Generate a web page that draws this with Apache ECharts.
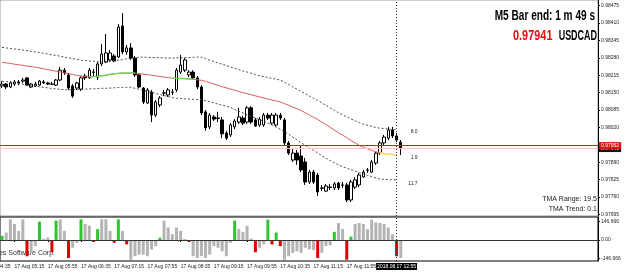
<!DOCTYPE html>
<html>
<head>
<meta charset="utf-8">
<title>USDCAD M5 - TMA bands</title>
<script src="https://cdn.jsdelivr.net/npm/echarts@6/dist/echarts.min.js"></script>
<style>
  html, body { margin: 0; padding: 0; background: #fff; }
  #chart { width: 625px; height: 275px; }
</style>
</head>
<body>
<div id="chart"></div>
<script>
// time axis (5 min bars), right part is the empty chart shift
const axisStart = '05:00';
const axisEnd = '16:55';
const firstBar = '05:00';
const cutLabel = '17 Aug 04:35'; // tick just left of the visible area
const timeTicks = ['05:15', '05:55', '06:35', '07:15', '07:55', '08:35', '09:15', '09:55', '10:35', '11:15', '11:55'];
const cursorTime = '12:55';
const cursorLabel = '2018.08.17 12:55';

// [open, close, low, high]
const candles = [
  [0.98175, 0.98182, 0.98167, 0.98193], [0.98182, 0.98171, 0.98163, 0.98186], [0.98171, 0.98186, 0.98167, 0.98193],
  [0.98182, 0.98190, 0.98175, 0.98197], [0.98190, 0.98186, 0.98178, 0.98197], [0.98193, 0.98197, 0.98186, 0.98205],
  [0.98205, 0.98178, 0.98175, 0.98208], [0.98171, 0.98182, 0.98167, 0.98186], [0.98175, 0.98182, 0.98171, 0.98190],
  [0.98178, 0.98193, 0.98175, 0.98197], [0.98190, 0.98186, 0.98182, 0.98197], [0.98186, 0.98182, 0.98178, 0.98190],
  [0.98182, 0.98181, 0.98178, 0.98190], [0.98178, 0.98197, 0.98175, 0.98201], [0.98197, 0.98234, 0.98193, 0.98246],
  [0.98234, 0.98223, 0.98216, 0.98242], [0.98216, 0.98167, 0.98160, 0.98223], [0.98175, 0.98137, 0.98130, 0.98182],
  [0.98167, 0.98186, 0.98160, 0.98190], [0.98163, 0.98205, 0.98156, 0.98212], [0.98212, 0.98205, 0.98197, 0.98220],
  [0.98205, 0.98234, 0.98201, 0.98242], [0.98227, 0.98226, 0.98212, 0.98238], [0.98208, 0.98257, 0.98197, 0.98264],
  [0.98257, 0.98294, 0.98249, 0.98332], [0.98264, 0.98298, 0.98261, 0.98369], [0.98272, 0.98298, 0.98264, 0.98309],
  [0.98287, 0.98268, 0.98264, 0.98294], [0.98283, 0.98395, 0.98279, 0.98406], [0.98399, 0.98302, 0.98294, 0.98447],
  [0.98302, 0.98317, 0.98291, 0.98328], [0.98317, 0.98279, 0.98272, 0.98335], [0.98279, 0.98216, 0.98208, 0.98287],
  [0.98216, 0.98171, 0.98167, 0.98223], [0.98167, 0.98115, 0.98107, 0.98171], [0.98111, 0.98160, 0.98107, 0.98167],
  [0.98152, 0.98066, 0.98040, 0.98160], [0.98066, 0.98115, 0.98059, 0.98122], [0.98104, 0.98130, 0.98096, 0.98137],
  [0.98149, 0.98148, 0.98137, 0.98160], [0.98141, 0.98160, 0.98134, 0.98167], [0.98152, 0.98151, 0.98141, 0.98163],
  [0.98160, 0.98234, 0.98152, 0.98242], [0.98227, 0.98253, 0.98220, 0.98291], [0.98234, 0.98272, 0.98227, 0.98279],
  [0.98216, 0.98227, 0.98208, 0.98234], [0.98227, 0.98205, 0.98197, 0.98234], [0.98205, 0.98171, 0.98163, 0.98212],
  [0.98171, 0.98074, 0.98066, 0.98178], [0.98078, 0.98018, 0.98007, 0.98085], [0.98022, 0.98066, 0.98014, 0.98074],
  [0.98059, 0.98051, 0.98044, 0.98066], [0.98055, 0.98054, 0.98040, 0.98078], [0.98048, 0.97996, 0.97980, 0.98059],
  [0.97999, 0.97980, 0.97973, 0.98007], [0.97992, 0.98029, 0.97984, 0.98036], [0.98022, 0.98044, 0.98014, 0.98051],
  [0.98040, 0.98059, 0.98033, 0.98093], [0.98055, 0.98036, 0.98029, 0.98063], [0.98040, 0.98093, 0.98033, 0.98100],
  [0.98093, 0.98040, 0.98033, 0.98100], [0.98048, 0.98025, 0.98022, 0.98055], [0.98029, 0.98051, 0.98022, 0.98059],
  [0.98029, 0.98066, 0.98022, 0.98074], [0.98066, 0.98055, 0.98048, 0.98074], [0.98036, 0.98066, 0.98029, 0.98074],
  [0.98029, 0.98066, 0.98022, 0.98074], [0.98066, 0.98055, 0.98048, 0.98074], [0.98048, 0.97962, 0.97954, 0.98055],
  [0.97962, 0.97924, 0.97917, 0.97969], [0.97898, 0.97924, 0.97891, 0.97943], [0.97924, 0.97898, 0.97880, 0.97936],
  [0.97913, 0.97861, 0.97853, 0.97954], [0.97891, 0.97816, 0.97805, 0.97906], [0.97816, 0.97853, 0.97809, 0.97861],
  [0.97853, 0.97816, 0.97809, 0.97861], [0.97842, 0.97779, 0.97764, 0.97850], [0.97794, 0.97793, 0.97782, 0.97805],
  [0.97782, 0.97801, 0.97779, 0.97809], [0.97797, 0.97796, 0.97786, 0.97809], [0.97794, 0.97809, 0.97786, 0.97816],
  [0.97812, 0.97794, 0.97786, 0.97816], [0.97805, 0.97804, 0.97794, 0.97816], [0.97805, 0.97749, 0.97741, 0.97812],
  [0.97749, 0.97816, 0.97741, 0.97824], [0.97797, 0.97824, 0.97790, 0.97835], [0.97805, 0.97842, 0.97797, 0.97850],
  [0.97835, 0.97853, 0.97831, 0.97861], [0.97861, 0.97860, 0.97850, 0.97868], [0.97853, 0.97891, 0.97850, 0.97898],
  [0.97887, 0.97924, 0.97880, 0.97928], [0.97924, 0.97962, 0.97917, 0.97969], [0.97962, 0.97984, 0.97954, 0.97992],
  [0.97980, 0.98010, 0.97973, 0.98022], [0.98010, 0.97988, 0.97980, 0.98022], [0.97988, 0.97973, 0.97965, 0.97999],
  [0.97965, 0.97941, 0.97917, 0.97973]
];

// TMA centre line and bands (one value per closed bar)
const tmaMid = [
  0.98263, 0.98261, 0.98259, 0.98256, 0.98254, 0.98252, 0.98249, 0.98247, 0.98245, 0.98242,
  0.98239, 0.98236, 0.98233, 0.98230, 0.98227, 0.98224, 0.98221, 0.98218, 0.98214, 0.98212,
  0.98210, 0.98209, 0.98210, 0.98211, 0.98213, 0.98215, 0.98218, 0.98220, 0.98222, 0.98223,
  0.98223, 0.98223, 0.98223, 0.98221, 0.98219, 0.98217, 0.98215, 0.98213, 0.98210, 0.98208,
  0.98206, 0.98204, 0.98203, 0.98203, 0.98202, 0.98201, 0.98200, 0.98198, 0.98196, 0.98192,
  0.98187, 0.98182, 0.98177, 0.98172, 0.98168, 0.98163, 0.98159, 0.98154, 0.98150, 0.98146,
  0.98142, 0.98138, 0.98134, 0.98130, 0.98126, 0.98122, 0.98119, 0.98115, 0.98109, 0.98103,
  0.98096, 0.98090, 0.98083, 0.98075, 0.98066, 0.98058, 0.98050, 0.98040, 0.98031, 0.98020,
  0.98010, 0.98000, 0.97991, 0.97982, 0.97971, 0.97962, 0.97953, 0.97946, 0.97940, 0.97934,
  0.97929, 0.97924, 0.97922, 0.97921, 0.97919, 0.97917
];
const tmaUpper = [
  0.98319, 0.98317, 0.98315, 0.98313, 0.98311, 0.98309, 0.98307, 0.98304, 0.98302, 0.98300,
  0.98297, 0.98294, 0.98291, 0.98289, 0.98286, 0.98283, 0.98280, 0.98277, 0.98274, 0.98271,
  0.98270, 0.98268, 0.98267, 0.98265, 0.98265, 0.98267, 0.98268, 0.98270, 0.98271, 0.98273,
  0.98276, 0.98278, 0.98280, 0.98282, 0.98283, 0.98282, 0.98281, 0.98281, 0.98280, 0.98280,
  0.98279, 0.98279, 0.98280, 0.98280, 0.98281, 0.98281, 0.98282, 0.98283, 0.98282, 0.98277,
  0.98271, 0.98266, 0.98261, 0.98256, 0.98251, 0.98246, 0.98241, 0.98236, 0.98231, 0.98227,
  0.98222, 0.98218, 0.98213, 0.98210, 0.98206, 0.98203, 0.98200, 0.98197, 0.98189, 0.98181,
  0.98171, 0.98163, 0.98154, 0.98146, 0.98137, 0.98129, 0.98121, 0.98112, 0.98102, 0.98093,
  0.98084, 0.98075, 0.98067, 0.98060, 0.98052, 0.98045, 0.98038, 0.98032, 0.98028, 0.98024,
  0.98020, 0.98017, 0.98016, 0.98014, 0.98012, 0.98011
];
const tmaLower = [
  0.98193, 0.98191, 0.98189, 0.98186, 0.98184, 0.98181, 0.98178, 0.98176, 0.98174, 0.98172,
  0.98169, 0.98168, 0.98165, 0.98164, 0.98162, 0.98161, 0.98160, 0.98161, 0.98162, 0.98162,
  0.98163, 0.98164, 0.98164, 0.98165, 0.98166, 0.98166, 0.98167, 0.98168, 0.98169, 0.98169,
  0.98170, 0.98170, 0.98166, 0.98163, 0.98159, 0.98155, 0.98151, 0.98147, 0.98143, 0.98139,
  0.98135, 0.98131, 0.98129, 0.98128, 0.98127, 0.98126, 0.98125, 0.98124, 0.98123, 0.98120,
  0.98116, 0.98112, 0.98107, 0.98103, 0.98099, 0.98095, 0.98087, 0.98080, 0.98074, 0.98067,
  0.98061, 0.98055, 0.98049, 0.98043, 0.98037, 0.98029, 0.98021, 0.98013, 0.98005, 0.97995,
  0.97984, 0.97974, 0.97963, 0.97953, 0.97943, 0.97934, 0.97925, 0.97914, 0.97905, 0.97896,
  0.97888, 0.97880, 0.97873, 0.97868, 0.97862, 0.97856, 0.97851, 0.97846, 0.97841, 0.97836,
  0.97831, 0.97827, 0.97826, 0.97825, 0.97824, 0.97824
];
// bar index spans where the centre line is drawn green / yellow
const tmaUpSpans = [[21, 32], [41, 46]];
const tmaFlatSpans = [[91, 95]];
const bandLabels = { upper: '8.0', mid: '1.9', lower: '11.7' };

// lower window histogram, state: 1 = up (green), -1 = down (red), 0 = neutral
const histValues = [
  33, 60, 165, 128, 73, 165, -130, -103, -49, 147,
  10, 19, -98, 155, 165, 73, -144, -62, -22, 165,
  128, 114, -16, 87, 165, 165, 73, -22, 165, 73,
  -35, -158, -130, -117, -117, -130, -76, -49, 19, 155,
  100, 46, 100, 73, 8, -16, -130, -144, -130, -144,
  -117, -49, -62, -90, -130, -22, 155, 87, 65, 114,
  10, -98, -62, -35, 163, -35, 60, -49, -158, -130,
  -103, -90, -103, -62, -75, -80, -144, -103, -49, -43,
  65, 136, 87, -158, 27, 128, 136, 128, 87, 163,
  141, 136, 128, 100, 46, -130, -144
];
const histState = [
  1, 0, 0, 0, 0, 0, -1, 0, 0, 1,
  0, 0, -1, 1, 0, 0, -1, 0, 0, 1,
  0, 0, -1, 1, 0, 0, 0, -1, 1, 0,
  -1, 0, 0, 0, 0, 0, 0, 0, 1, 0,
  0, 0, 0, 0, 0, -1, 0, 0, 0, 0,
  0, 0, 0, 0, 0, 0, 1, 0, 0, 0,
  0, -1, 0, 0, 1, -1, 1, -1, 0, 0,
  0, 0, 0, 0, 0, 0, -1, 0, 0, 0,
  1, 0, 0, -1, 1, 0, 0, 0, 0, 0,
  0, 0, 0, 0, 0, -1, 0
];

const priceTicks = [0.97695, 0.97760, 0.97825, 0.97890, 0.98020, 0.98085, 0.98150, 0.98215, 0.98280, 0.98345, 0.98410, 0.98475];
const histTicks = [-146.666, 0, 146.666];
const askPrice = 0.97952;
const bidPrice = 0.97941;

function buildTimes(from, to) {
  const toMin = s => { const p = s.split(':'); return +p[0] * 60 + +p[1]; };
  const out = [];
  for (let t = toMin(from); t <= toMin(to); t += 5) {
    out.push(String(Math.floor(t / 60)).padStart(2, '0') + ':' + String(t % 60).padStart(2, '0'));
  }
  return out;
}

const times = buildTimes(axisStart, axisEnd);
const offset = times.indexOf(firstBar);
const pad = arr => new Array(offset).fill('-').concat(arr);
const inSpans = (i, spans) => spans.some(s => i >= s[0] && i <= s[1]);
const spanData = (vals, spans) => pad(vals.map((v, i) => inSpans(i, spans) ? v : '-'));

const histColors = { '1': '#2ec52e', '-1': '#e00000', '0': '#b3b3b3' };
const font = 'Liberation Sans, Arial, sans-serif';

const chart = echarts.init(document.getElementById('chart'));

const bandStyle = { color: '#4a4a4a', width: 1, type: [2, 2] };
const endLabel = (text, dy) => ({
  show: true, formatter: text, align: 'right', distance: 21, offset: [0, dy],
  fontSize: 5, color: '#222', fontFamily: font
});
const cursorLine = { xAxis: cursorTime, lineStyle: { color: '#333', type: [1, 2], width: 1 }, label: { show: false } };

chart.setOption({
  animation: false,
  textStyle: { fontFamily: font },
  grid: [
    { left: 0, right: 27, top: 0, height: 216, show: true, borderColor: '#999', borderWidth: 1 },
    { left: 0, right: 27, top: 217, height: 44, show: true, borderColor: '#000', borderWidth: 1 }
  ],
  xAxis: [
    { type: 'category', gridIndex: 0, data: times, show: false },
    {
      type: 'category', gridIndex: 1, data: times, position: 'bottom',
      axisLine: { show: false },
      axisTick: { show: true, alignWithLabel: true, length: 2, interval: (i, v) => timeTicks.includes(v), lineStyle: { color: '#000' } },
      axisLabel: {
        interval: (i, v) => timeTicks.includes(v), formatter: v => '17 Aug ' + v,
        align: 'left', fontSize: 5, color: '#222', margin: 3
      },
      splitLine: { show: false }
    },
    {
      type: 'category', gridIndex: 1, data: times, position: 'bottom',
      axisLine: { show: false }, axisTick: { show: false },
      axisLabel: {
        interval: (i, v) => v === cursorTime, formatter: () => cursorLabel,
        fontSize: 5, color: '#fff', backgroundColor: '#000', padding: [1, 1], margin: 2
      }
    }
  ],
  yAxis: [
    {
      type: 'value', gridIndex: 0, position: 'right', min: 0.97689, max: 0.98496,
      axisLine: { show: true, lineStyle: { color: '#000' } },
      axisTick: { show: true, length: 2, customValues: priceTicks, lineStyle: { color: '#000' } },
      axisLabel: { customValues: priceTicks, formatter: v => v.toFixed(5), fontSize: 5, color: '#222', margin: 3 },
      splitLine: { show: false }
    },
    {
      type: 'value', gridIndex: 1, position: 'right', min: -168, max: 184,
      axisLine: { show: true, lineStyle: { color: '#000' } },
      axisTick: { show: true, length: 2, customValues: histTicks, lineStyle: { color: '#000' } },
      axisLabel: { customValues: histTicks, formatter: v => v === 0 ? '0.00' : v.toFixed(3), fontSize: 5, color: '#222', margin: 3 },
      splitLine: { show: false }
    }
  ],
  series: [
    {
      type: 'candlestick', xAxisIndex: 0, yAxisIndex: 0, barWidth: 3,
      data: pad(candles),
      itemStyle: { color: '#fff', color0: '#000', borderColor: '#000', borderColor0: '#000', borderWidth: 1 }
    },
    {
      type: 'line', xAxisIndex: 0, yAxisIndex: 0, data: pad(tmaUpper), showSymbol: false, lineStyle: bandStyle,
      endLabel: endLabel(bandLabels.upper, 2),
      markLine: {
        silent: true, symbol: ['none', 'none'], precision: 5,
        data: [
          cursorLine,
          {
            yAxis: bidPrice, lineStyle: { color: '#efcaca', type: 'solid', width: 1 },
            label: { position: 'end', distance: 1, formatter: bidPrice.toFixed(5), fontSize: 5, color: '#fff', backgroundColor: '#111', padding: [1, 2] }
          },
          {
            yAxis: askPrice, lineStyle: { color: '#d42020', type: 'solid', width: 1 },
            label: { position: 'end', distance: 1, formatter: askPrice.toFixed(5), fontSize: 5, color: '#fff', backgroundColor: '#e01010', padding: [1, 2] }
          }
        ]
      }
    },
    { type: 'line', xAxisIndex: 0, yAxisIndex: 0, data: pad(tmaLower), showSymbol: false, lineStyle: bandStyle, endLabel: endLabel(bandLabels.lower, 4) },
    { type: 'line', xAxisIndex: 0, yAxisIndex: 0, data: pad(tmaMid), showSymbol: false, lineStyle: { color: '#dd5a5a', width: 1 }, endLabel: endLabel(bandLabels.mid, 3) },
    { type: 'line', xAxisIndex: 0, yAxisIndex: 0, data: spanData(tmaMid, tmaUpSpans), showSymbol: false, lineStyle: { color: '#62dc50', width: 1.3 } },
    { type: 'line', xAxisIndex: 0, yAxisIndex: 0, data: spanData(tmaMid, tmaFlatSpans), showSymbol: false, lineStyle: { color: '#f6e27a', width: 2 } },
    {
      type: 'bar', xAxisIndex: 1, yAxisIndex: 1, barWidth: 3,
      data: pad(histValues.map((v, i) => ({ value: v, itemStyle: { color: histColors[histState[i]] } }))),
      markLine: {
        silent: true, symbol: ['none', 'none'], label: { show: false },
        data: [
          { yAxis: 0, lineStyle: { color: '#333', type: 'solid', width: 1 } },
          cursorLine
        ]
      }
    }
  ],
  graphic: [
    { type: 'text', x: 595, y: 16, scaleX: 0.72, style: { text: 'M5 Bar end: 1 m 49 s', font: 'bold 14px ' + font, fill: '#000', textAlign: 'right', textVerticalAlign: 'middle' } },
    { type: 'text', x: 513, y: 36, scaleX: 0.78, style: { text: '0.97941', font: 'bold 14px ' + font, fill: '#e01010', textAlign: 'left', textVerticalAlign: 'middle' } },
    { type: 'text', x: 597, y: 36, scaleX: 0.64, style: { text: 'USDCAD', font: 'bold 14px ' + font, fill: '#000', textAlign: 'right', textVerticalAlign: 'middle' } },
    { type: 'text', x: 597, y: 199, style: { text: 'TMA Range: 19.5', font: '7px ' + font, fill: '#222', textAlign: 'right', textVerticalAlign: 'middle' } },
    { type: 'text', x: 597, y: 209.5, style: { text: 'TMA Trend: 0.1', font: '7px ' + font, fill: '#222', textAlign: 'right', textVerticalAlign: 'middle' } },
    { type: 'text', x: 55, y: 253, style: { text: 'MetaQuotes Software Corp.', font: '7px ' + font, fill: '#333', textAlign: 'right', textVerticalAlign: 'middle' } },
    { type: 'text', x: 10.5, y: 266.5, style: { text: cutLabel, font: '5px ' + font, fill: '#222', textAlign: 'right', textVerticalAlign: 'middle' } }
  ]
});
</script>
</body>
</html>
